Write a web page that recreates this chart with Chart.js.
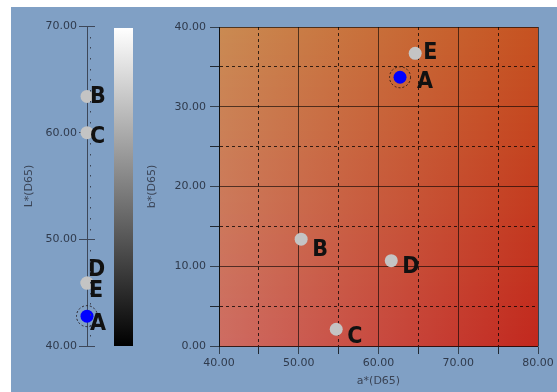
<!DOCTYPE html>
<html>
<head>
<meta charset="utf-8">
<script src="https://cdn.jsdelivr.net/npm/chart.js@4.4.0/dist/chart.umd.min.js"></script>
<style>
  html, body { margin:0; padding:0; background:#fff; }
  #wrap { position:relative; width:557px; height:392px; overflow:hidden; }
  #bg { position:absolute; left:11px; top:7px; width:546px; height:385px; background:#80a0c5; }
  #lchart { position:absolute; left:0; top:0; }
  #rchart { position:absolute; left:140px; top:0; }
  #ramp { position:absolute; left:114px; top:28px; width:19px; height:318px; background:linear-gradient(#ffffff, #000000); }
</style>
</head>
<body>
<div id="wrap">
  <div id="bg"></div>
  <div id="ramp"></div>
  <canvas id="lchart" width="140" height="392"></canvas>
  <canvas id="rchart" width="417" height="392"></canvas>
</div>
<script>
// sample points
var pointNames = ['A', 'B', 'C', 'D', 'E'];
var lValues = [42.8, 63.4, 60.0, 45.9, 45.9];   // L*(D65)
var aValues = [62.7, 50.3, 54.7, 61.6, 64.6];   // a*(D65)
var bValues = [33.7, 13.4, 2.1, 10.7, 36.7];    // b*(D65)

// axis ranges
var lRange = [40, 70];
var aRange = [40, 80];
var bRange = [0, 40];

// styling
var ptColors = ['#0000ff', '#c4c4c4', '#c4c4c4', '#c4c4c4', '#c4c4c4'];
var leftLabelOffsets = [[3, 8], [3, 1], [3, 4], [1, -13], [2, 8]];
var rightLabelOffsets = [[17, 5], [11, 11], [11, 8], [11, 6], [8, 0]];
var tickFont = { family: 'DejaVu Sans', size: 11 };
var tickColor = '#2f3a4c';
var titleColor = '#3a4456';

// letters next to the points
function pointLabels(offsets) {
  return {
    id: 'pointLabels',
    afterDatasetsDraw: function(chart) {
      var ctx = chart.ctx;
      var meta = chart.getDatasetMeta(0);
      ctx.save();
      // dashed ring round A
      var el = meta.data[0];
      ctx.beginPath();
      ctx.setLineDash([2, 2]);
      ctx.strokeStyle = 'rgba(30,20,20,0.85)';
      ctx.lineWidth = 1;
      ctx.arc(el.x, el.y, 10.5, 0, Math.PI * 2);
      ctx.stroke();
      ctx.setLineDash([]);
      ctx.font = 'bold 23px "Liberation Sans Narrow", "DejaVu Sans Condensed", sans-serif';
      ctx.fillStyle = '#111';
      ctx.textAlign = 'left';
      ctx.textBaseline = 'middle';
      meta.data.forEach(function(p, i) {
        ctx.fillText(pointNames[i], p.x + offsets[i][0], p.y + offsets[i][1]);
      });
      ctx.restore();
    }
  };
}

// small dots between the major ticks of the L* axis
var minorDots = {
  id: 'minorDots',
  afterDraw: function(chart) {
    var s = chart.scales.y;
    var ctx = chart.ctx;
    ctx.save();
    ctx.fillStyle = '#3a4456';
    s.ticks.forEach(function(t) {
      if (t.value % 10 !== 0) {
        ctx.fillRect(s.right + 3, Math.round(s.getPixelForValue(t.value)), 1, 1.5);
      }
    });
    ctx.restore();
  }
};

// orange-to-red shading of the a*b* plane
function mix(c1, c2, t) {
  return c1.map(function(v, k) { return Math.round(v + (c2[k] - v) * t); });
}
var shadeTL = [202, 138, 82], shadeTR = [198, 82, 32];
var shadeBL = [206, 108, 98], shadeBR = [194, 40, 30];
var plotShade = {
  id: 'plotShade',
  beforeDraw: function(chart) {
    var a = chart.chartArea;
    var ctx = chart.ctx;
    var n = 80;
    var h = (a.bottom - a.top) / n;
    for (var j = 0; j < n; j++) {
      var t = j / (n - 1);
      var cl = mix(shadeTL, shadeBL, t), cr = mix(shadeTR, shadeBR, t);
      var g = ctx.createLinearGradient(a.left, 0, a.right, 0);
      g.addColorStop(0, 'rgb(' + cl.join(',') + ')');
      g.addColorStop(1, 'rgb(' + cr.join(',') + ')');
      ctx.fillStyle = g;
      ctx.fillRect(a.left, a.top + j * h, a.right - a.left, h + 1);
    }
  }
};

// left chart: L* axis
new Chart(document.getElementById('lchart'), {
  type: 'scatter',
  data: {
    datasets: [{
      data: pointNames.map(function(n, i) { return { x: 0, y: lValues[i] }; }),
      pointRadius: 6.5,
      pointBackgroundColor: ptColors,
      pointBorderWidth: 0,
      clip: false
    }]
  },
  options: {
    responsive: false,
    animation: false,
    layout: { padding: { left: 19, right: 45, top: 26, bottom: 46 } },
    plugins: { legend: { display: false }, tooltip: { enabled: false } },
    scales: {
      x: { display: false, min: 0, max: 1 },
      y: {
        min: lRange[0], max: lRange[1],
        afterFit: function(s) { s.width = 68; },
        ticks: {
          stepSize: 1, autoSkip: false, padding: 2, font: tickFont, color: tickColor,
          callback: function(v) { return v % 10 === 0 ? v.toFixed(2) : ''; }
        },
        grid: {
          tickLength: 8,
          color: function(c) { return c.tick && c.tick.value % 10 === 0 ? '#3d4759' : 'rgba(0,0,0,0)'; }
        },
        border: { display: true, color: '#3d4759' },
        title: { display: true, text: 'L*(D65)', color: titleColor, font: tickFont }
      }
    }
  },
  plugins: [minorDots, pointLabels(leftLabelOffsets)]
});

// right chart: a* vs b*
new Chart(document.getElementById('rchart'), {
  type: 'scatter',
  data: {
    datasets: [{
      data: pointNames.map(function(n, i) { return { x: aValues[i], y: bValues[i] }; }),
      pointRadius: 6.5,
      pointBackgroundColor: ptColors,
      pointBorderWidth: 0
    }]
  },
  options: {
    responsive: false,
    animation: false,
    layout: { padding: { left: 0, right: 19, top: 27, bottom: 0 } },
    plugins: { legend: { display: false }, tooltip: { enabled: false } },
    scales: {
      x: {
        min: aRange[0], max: aRange[1],
        afterFit: function(s) { s.height = 46; },
        ticks: {
          stepSize: 5, autoSkip: false, maxRotation: 0, padding: 3, font: tickFont, color: tickColor,
          callback: function(v) { return v % 10 === 0 ? v.toFixed(2) : ''; }
        },
        grid: {
          tickLength: 8,
          color: function(c) { return c.tick && c.tick.value % 10 === 0 ? 'rgba(0,0,0,0.6)' : 'rgba(0,0,0,0.75)'; }
        },
        border: {
          color: 'rgba(0,0,0,0.35)',
          dash: function(c) { return c.tick && c.tick.value % 10 !== 0 ? [3, 3] : []; }
        },
        title: { display: true, text: 'a*(D65)', color: titleColor, font: tickFont, padding: { top: 2, bottom: 4 } }
      },
      y: {
        min: bRange[0], max: bRange[1],
        afterFit: function(s) { s.width = 79; },
        ticks: {
          stepSize: 5, autoSkip: false, padding: 4, font: tickFont, color: tickColor,
          callback: function(v) { return v % 10 === 0 ? v.toFixed(2) : ''; }
        },
        grid: {
          tickLength: 9,
          color: function(c) { return c.tick && c.tick.value % 10 === 0 ? 'rgba(0,0,0,0.6)' : 'rgba(0,0,0,0.75)'; }
        },
        border: {
          color: '#111',
          dash: function(c) { return c.tick && c.tick.value % 10 !== 0 ? [3, 3] : []; }
        },
        title: { display: true, text: 'b*(D65)', color: titleColor, font: tickFont, padding: { top: 6, bottom: 4 } }
      }
    }
  },
  plugins: [plotShade, pointLabels(rightLabelOffsets)]
});
</script>
</body>
</html>
